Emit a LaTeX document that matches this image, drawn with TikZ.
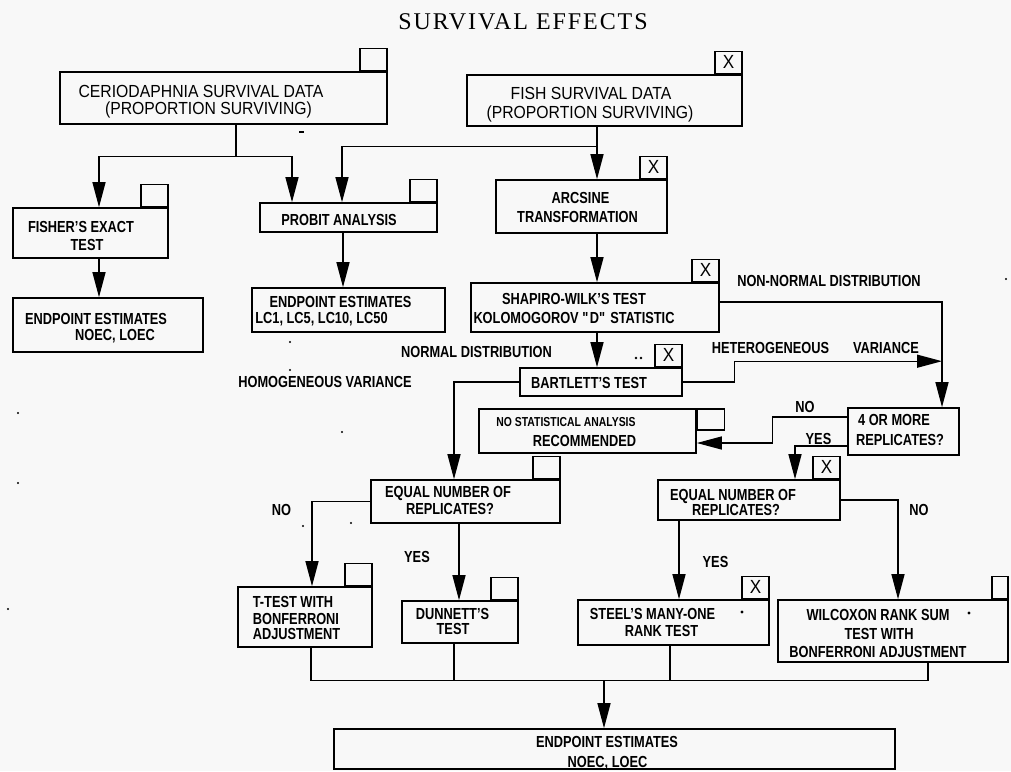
\documentclass[tikz,border=0pt]{standalone}
\usepackage{fontspec}
\setmainfont{Liberation Sans}[FakeStretch=0.9, BoldFeatures={FakeStretch=0.8}]
\newfontfamily\titlefont{Liberation Serif}[LetterSpace=8]
\usetikzlibrary{arrows.meta}
\definecolor{bg}{RGB}{248,248,248}
\tikzset{
  box/.style={draw, line width=1.6pt, inner sep=0pt},
  tabbox/.style={draw, line width=1.6pt, inner sep=0pt, minimum width=27pt, minimum height=22pt, font=\fontsize{19}{19}\selectfont},
  txt/.style={inner sep=0pt, font=\bfseries\fontsize{16}{16}\selectfont, text height=11.5pt, text depth=0pt},
  smalltxt/.style={inner sep=0pt, font=\bfseries\fontsize{13}{13}\selectfont, text height=9.3pt, text depth=0pt},
  big/.style={inner sep=0pt, font=\fontsize{17.5}{18}\selectfont, text height=12.5pt, text depth=0pt},
  conn/.style={line width=1.3pt},
  arr/.style={line width=1.3pt, -{Triangle[length=25pt,width=13pt]}}
}
\begin{document}
\begin{tikzpicture}[x=1pt,y=-1pt]
\fill[bg] (0,0) rectangle (1011,771);
\useasboundingbox (0,0) rectangle (1011,771);

% title
\node[inner sep=0pt, font=\titlefont\fontsize{24}{24}\selectfont] (title) at (523,22) {SURVIVAL EFFECTS};

% boxes
\node[box, minimum width=327pt, minimum height=52pt] (cerio) at (223.5,98) {};
\node[box, minimum width=275pt, minimum height=51pt] (fish) at (604.5,100.5) {};
\node[box, minimum width=155pt, minimum height=50pt] (fisher) at (90.5,233) {};
\node[box, minimum width=190pt, minimum height=54pt] (end1) at (108,325) {};
\node[box, minimum width=177pt, minimum height=29pt] (probit) at (348.5,217.5) {};
\node[box, minimum width=193pt, minimum height=44pt] (end2) at (348.5,310) {};
\node[box, minimum width=171pt, minimum height=53pt] (arcsine) at (581.5,206.5) {};
\node[box, minimum width=248pt, minimum height=49pt] (shapiro) at (595,307.5) {};
\node[box, minimum width=162pt, minimum height=28pt] (bartlett) at (601,382) {};
\node[box, minimum width=217pt, minimum height=44pt] (nostat) at (587.5,431) {};
\node[box, minimum width=111pt, minimum height=47pt] (four) at (903.5,431.5) {};
\node[box, minimum width=189pt, minimum height=43pt] (eqa) at (465.5,501.5) {};
\node[box, minimum width=182pt, minimum height=40pt] (eqb) at (749,500) {};
\node[box, minimum width=134pt, minimum height=60pt] (ttest) at (305,617) {};
\node[box, minimum width=116pt, minimum height=42pt] (dunnett) at (460,622) {};
\node[box, minimum width=191pt, minimum height=45pt] (steel) at (673.5,622.5) {};
\node[box, minimum width=230pt, minimum height=62pt] (wilcox) at (893,631) {};
\node[box, minimum width=561pt, minimum height=40pt] (final) at (614.5,749) {};

% tabs
\node[tabbox, anchor=south east] (cerio-t) at (cerio.north east) {};
\node[tabbox, anchor=south east] (fish-t) at (fish.north east) {X};
\node[tabbox, anchor=south east] (fisher-t) at (fisher.north east) {};
\node[tabbox, anchor=south east] (probit-t) at (probit.north east) {};
\node[tabbox, anchor=south east] (arcsine-t) at (arcsine.north east) {X};
\node[tabbox, anchor=south east] (shapiro-t) at (shapiro.north east) {X};
\node[tabbox, anchor=south east] (bartlett-t) at (bartlett.north east) {X};
\node[tabbox, anchor=north west, minimum height=21pt] (nostat-t) at (nostat.north east) {};
\node[tabbox, anchor=south east] (eqa-t) at (eqa.north east) {};
\node[tabbox, anchor=south east] (eqb-t) at (eqb.north east) {X};
\node[tabbox, anchor=south east] (ttest-t) at (ttest.north east) {};
\node[tabbox, anchor=south east] (dunnett-t) at (dunnett.north east) {};
\node[tabbox, anchor=south east] (steel-t) at (steel.north east) {X};
\node[tabbox, anchor=south east, minimum width=16pt] (wilcox-t) at (wilcox.north east) {};

% box texts
\node[big] (t-cerio1) at (201,91) {CERIODAPHNIA SURVIVAL DATA};
\node[big] (t-cerio2) at (208.5,108.5) {(PROPORTION SURVIVING)};
\node[big] (t-fish1) at (591,93.5) {FISH SURVIVAL DATA};
\node[big] (t-fish2) at (590,112) {(PROPORTION SURVIVING)};
\node[txt] (t-fisher1) at (81,227) {FISHER'S EXACT};
\node[txt] (t-fisher2) at (87,245) {TEST};
\node[txt] (t-end1a) at (96,318.5) {ENDPOINT ESTIMATES};
\node[txt] (t-end1b) at (115,335) {NOEC, LOEC};
\node[txt] (t-probit) at (339,219.5) {PROBIT ANALYSIS};
\node[txt] (t-end2a) at (340.5,302) {ENDPOINT ESTIMATES};
\node[txt] (t-end2b) at (321.5,317.5) {LC1, LC5, LC10, LC50};
\node[txt] (t-arc1) at (580.5,198) {ARCSINE};
\node[txt] (t-arc2) at (577.5,216.5) {TRANSFORMATION};
\node[txt] (t-sha1) at (574,298.5) {SHAPIRO-WILK'S TEST};
\node[txt] (t-sha2) at (574,317.5) {KOLOMOGOROV \textquotedbl D\textquotedbl{} STATISTIC};
\node[txt] (t-bart) at (589,382.5) {BARTLETT'S TEST};
\node[smalltxt] (t-nos1) at (566,422) {NO STATISTICAL ANALYSIS};
\node[txt] (t-nos2) at (584.5,440.5) {RECOMMENDED};
\node[txt] (t-four1) at (894,420) {4 OR MORE};
\node[txt] (t-four2) at (900,440) {REPLICATES?};
\node[txt] (t-eqa1) at (448,492) {EQUAL NUMBER OF};
\node[txt] (t-eqa2) at (450,508.5) {REPLICATES?};
\node[txt] (t-eqb1) at (733,494.5) {EQUAL NUMBER OF};
\node[txt] (t-eqb2) at (736,509.5) {REPLICATES?};
\node[txt] (t-tt1) at (293,602) {T-TEST WITH};
\node[txt] (t-tt2) at (296,618.5) {BONFERRONI};
\node[txt] (t-tt3) at (296.5,633.5) {ADJUSTMENT};
\node[txt] (t-dun1) at (452.5,613.5) {DUNNETT'S};
\node[txt] (t-dun2) at (453,628.5) {TEST};
\node[txt] (t-st1) at (652.5,614) {STEEL'S MANY-ONE};
\node[txt] (t-st2) at (661.5,631) {RANK TEST};
\node[txt] (t-wi1) at (878,615) {WILCOXON RANK SUM};
\node[txt] (t-wi2) at (879,633.5) {TEST WITH};
\node[txt] (t-wi3) at (878,651.5) {BONFERRONI ADJUSTMENT};
\node[txt] (t-fin1) at (607,742) {ENDPOINT ESTIMATES};
\node[txt] (t-fin2) at (607.5,761.5) {NOEC, LOEC};

% labels
\node[txt] (l-nonnormal) at (829,280.5) {NON-NORMAL DISTRIBUTION};
\node[txt] (l-normal) at (476.5,352) {NORMAL DISTRIBUTION};
\node[txt] (l-hetero) at (770.5,348) {HETEROGENEOUS};
\node[txt] (l-var) at (886,348) {VARIANCE};
\node[txt] (l-homo) at (325,382) {HOMOGENEOUS VARIANCE};
\node[txt] (l-no1) at (805,406.5) {NO};
\node[txt] (l-yes1) at (818.5,439) {YES};
\node[txt] (l-no2) at (281.5,509.5) {NO};
\node[txt] (l-yes2) at (417,557) {YES};
\node[txt] (l-yes3) at (715.5,562) {YES};
\node[txt] (l-no3) at (919,510) {NO};

% connectors
\coordinate (c1) at ([xshift=12.5pt]cerio.south);
\coordinate (c2) at ([yshift=-32pt]c1);
\draw[conn] (c1) -- (c2);
\draw[arr] (c2) -| ([xshift=8.5pt]fisher.north);
\draw[arr] (c2) -| ([xshift=-56.5pt]probit.north);

\coordinate (f1) at ([xshift=-7.5pt]fish.south);
\draw[arr] (f1) -- (f1 |- arcsine.north);
\coordinate (f2) at ([yshift=-20pt]f1);
\draw[arr] (f2) -| ([xshift=-6.5pt]probit.north);

\coordinate (fi1) at ([xshift=8.5pt]fisher.south);
\draw[arr] (fi1) -- (fi1 |- end1.north);
\coordinate (p1) at ([xshift=-5.5pt]probit.south);
\draw[arr] (p1) -- (p1 |- end2.north);
\coordinate (a1) at ([xshift=15.5pt]arcsine.south);
\draw[arr] (a1) -- (a1 |- shapiro.north);
\coordinate (s1) at ([xshift=2pt]shapiro.south);
\draw[arr] (s1) -- (s1 |- bartlett.north);
\coordinate (s2) at ([yshift=5.5pt]shapiro.east);
\draw[arr] (s2) -| ([xshift=38.5pt]four.north);
\draw[arr] (bartlett.east) -- ++(52,0) |- ([xshift=38.5pt,yshift=46pt]four.north);
\draw[arr] (bartlett.west) -| ([xshift=-11.5pt]eqa.north);
\coordinate (fo1) at ([yshift=14.5pt]four.west);
\draw[arr] (fo1) -- ++(-75,0) |- ([yshift=-12pt]nostat.east);
\coordinate (fo2) at ([yshift=-14.5pt]four.west);
\draw[arr] (fo2) -| ([xshift=46pt]eqb.north);
\draw[arr] (eqa.west) -| ([xshift=7pt]ttest.north);
\coordinate (e1) at ([xshift=-6.5pt]eqa.south);
\draw[arr] (e1) -- (e1 |- dunnett.north);
\coordinate (e2) at ([xshift=-70pt]eqb.south);
\draw[arr] (e2) -- (e2 |- steel.north);
\draw[arr] (eqb.east) -| ([xshift=5pt]wilcox.north);

\coordinate (t1) at ([xshift=6pt]ttest.south);
\coordinate (busL) at ([yshift=-33pt]t1);
\coordinate (w1) at ([xshift=35pt]wilcox.south);
\draw[conn] (t1) -- (busL) -| (w1);
\coordinate (d1) at ([xshift=-6pt]dunnett.south);
\draw[conn] (d1) -- (d1 |- busL);
\coordinate (st1) at ([xshift=-3.5pt]steel.south);
\draw[conn] (st1) -- (st1 |- busL);
\coordinate (fa) at ([xshift=-10.5pt]final.north);
\draw[arr] (fa |- busL) -- (fa);

% specks and bullets
\fill (636,358) circle (1.4pt);
\fill (641,358) circle (1.4pt);
\fill (742,612) circle (1.6pt);
\fill (969,613) circle (1.6pt);
\draw[line width=1.2pt] (299,132) -- (304,132);
\foreach \p in {(290,342),(290,370),(342,432),(18,413),(18,483),(8,609),(303,526),(351,523),(1006,279)}
  \fill \p circle (1.2pt);
\end{tikzpicture}
\end{document}
